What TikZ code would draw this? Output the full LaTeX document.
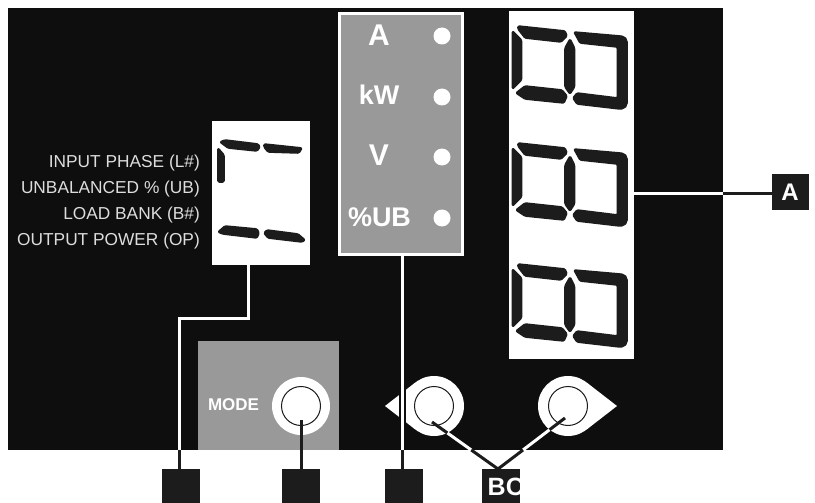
\documentclass[tikz,border=0pt]{standalone}
\usepackage{fontspec}
\setmainfont{Liberation Sans}
\definecolor{panelblack}{HTML}{0E0E0E}
\definecolor{segblack}{HTML}{1C1C1C}
\definecolor{panelgray}{HTML}{999999}
\definecolor{labelgray}{HTML}{DDDDDD}
\tikzset{
  box/.style={rectangle,inner sep=0pt,outer sep=0pt,anchor=north west},
  seg/.style={fill=segblack,draw=segblack,line width=1.6pt,line join=round,rounded corners=1.2pt},
  tag/.style={box,fill=segblack,minimum width=38pt,minimum height=34pt},
  whiteline/.style={draw=white,line width=3pt},
  blackline/.style={draw=segblack,line width=3pt},
  casing/.style={draw=panelblack,line width=7pt},
  sidelabel/.style={inner sep=0pt,anchor=east,text=labelgray,font=\fontsize{17.3}{17.3}\selectfont},
  unitlabel/.style={inner sep=0pt,text=white,font=\fontsize{27}{27}\selectfont\bfseries},
  bigunit/.style={inner sep=0pt,text=white,font=\fontsize{30}{30}\selectfont\bfseries},
  unitdot/.style={circle,fill=white,inner sep=0pt,minimum size=17pt},
  knob/.style={circle,fill=white,inner sep=0pt,minimum size=#1},
  ring/.style={circle,draw=segblack,line width=1pt,inner sep=0pt,minimum size=39pt},
}
\newcommand{\digitpair}[1]{%
  \begin{scope}[shift={(505,#1)}]
    \draw[seg] (13,11) -- (60,16) -- (62,21) -- (56,27) -- (20,23) -- (13,14) -- cycle;
    \draw[seg] (7.5,16) -- (16.5,25) -- (16.5,65) -- (7.5,74) -- cycle;
    \draw[seg] (11,78) -- (20,71) -- (57,75) -- (62,81) -- (59,88) -- (20,84) -- cycle;
    \draw[seg] (65,24) -- (69.5,33) -- (69.5,72) -- (65,79) -- (60,72) -- (60,33) -- cycle;
    \draw[seg] (69,17) -- (115,21) [rounded corners=5pt] -- (122,22) -- (122,93) [rounded corners=1.2pt] -- (115,94) -- (72,89) -- (68,83) -- (72,78) -- (112.5,83) -- (112.5,32) -- (75,28) -- cycle;
  \end{scope}}
\begin{document}
\begin{tikzpicture}[x=1pt,y=-1pt]
\useasboundingbox (0,0) rectangle (815,503);
\fill[white] (0,0) rectangle (815,503);
% panel and boxes
\node[box,fill=panelblack,minimum width=715pt,minimum height=442pt] (panel) at (8,8) {};
\node[box,fill=white,minimum width=98pt,minimum height=144pt] (phasebox) at (212,121) {};
\node[box,fill=panelgray,draw=white,line width=3pt,minimum width=123pt,minimum height=241pt] (unitbox) at (339.5,13.5) {};
\node[box,fill=white,minimum width=125pt,minimum height=348pt] (readbox) at (509,11) {};
\node[box,fill=panelgray,minimum width=141pt,minimum height=109pt] (modebox) at (198,341) {};
% tags
\node[tag] (tagone) at (162,469) {};
\node[tag] (tagtwo) at (282,469) {};
\node[tag] (tagthree) at (385,469) {};
\node[tag] (tagbc) at (482,469) {};
\begin{scope}
  \clip (482,469) rectangle (520,503);
  \node[inner sep=0pt,anchor=west,text=white,font=\fontsize{25}{25}\selectfont\bfseries] (bctext) at (487.5,487) {BC};
\end{scope}
\node[box,fill=segblack,minimum width=37pt,minimum height=36pt] (taga) at (772,174) {};
\node[inner sep=0pt,text=white,font=\fontsize{24}{24}\selectfont\bfseries] (tagatext) at (790,192.5) {A};
% side labels
\node[sidelabel] (lone) at (200,163) {INPUT PHASE (L\#)};
\node[sidelabel] (ltwo) at (200,189) {UNBALANCED \% (UB)};
\node[sidelabel] (lthree) at (200,215) {LOAD BANK (B\#)};
\node[sidelabel] (lfour) at (200,241) {OUTPUT POWER (OP)};
% unit labels and dots
\node[bigunit] (ua) at (379,35) {A};
\node[unitlabel] (ukw) at (379,95) {kW};
\node[bigunit] (uv) at (379,155) {V};
\node[unitlabel] (uub) at (379.5,217) {\%UB};
\node[unitdot] (da) at (442,36) {};
\node[unitdot] (dkw) at (442,97) {};
\node[unitdot] (dv) at (442,157) {};
\node[unitdot] (dub) at (442,218) {};
\node[inner sep=0pt,text=white,font=\fontsize{17}{17}\selectfont\bfseries] (modetext) at (233.5,405) {MODE};
% digits
\digitpair{15}
\digitpair{132}
\digitpair{253}
\draw[seg] (220,142) -- (225,140) -- (258,144) -- (260,147) -- (257,151) -- (228,148) -- cycle;
\draw[seg] (264,144) -- (302,148) -- (299,153) -- (268,152) -- (264,147) -- cycle;
\draw[seg] (218,148) -- (224,155) -- (224,182) -- (218,182) -- cycle;
\draw[seg] (218,232) -- (225,226) -- (257,229) -- (259,233) -- (257,238) -- (223,234) -- cycle;
\draw[seg] (264,233) -- (267,230) -- (298,234) -- (305,240) -- (302,242) -- (268,238) -- cycle;
% connector way points
\coordinate (pa) at (248,265);
\coordinate (pb) at (248,318);
\coordinate (pc) at (179,318);
\coordinate (pd) at (179,450);
\coordinate (ua0) at (402,256);
\coordinate (ua1) at (402,450);
\coordinate (ra0) at (634,193);
\coordinate (ra1) at (723,193);
\coordinate (lhit) at (432,422);
\coordinate (lout) at (447.3,432.9);
\coordinate (lpan) at (471.3,450);
\coordinate (rhit) at (565,418);
\coordinate (rout) at (549.6,429.7);
\coordinate (rpan) at (523,450);
\coordinate (bcl) at (498,469);
% white parts of the connectors
\draw[whiteline] (pa) -- (pb) -- (pc) -- (pd);
\draw[whiteline] (ra0) -- (ra1);
\draw[whiteline] (lout) -- (lpan);
\draw[whiteline] (rout) -- (rpan);
% knobs
\fill[white] (385,406) -- (415.6,382.3) -- (415.6,429.7) -- cycle;
\fill[white] (617,406) -- (586.4,382.3) -- (586.4,429.7) -- cycle;
\node[knob=58pt] (kmode) at (301,406) {};
\node[knob=60pt] (kleft) at (434,406) {};
\node[knob=60pt] (kright) at (568,406) {};
\node[ring] (rmode) at (301,406) {};
\node[ring] (rleft) at (434,406) {};
\node[ring] (rright) at (568,406) {};
\draw[casing] (402,375) -- (ua1);
\draw[whiteline] (ua0) -- (ua1);
% black parts of the connectors
\draw[blackline] (pd) -- (tagone.north -| pd);
\draw[blackline] (ua1) -- (tagthree.north -| ua1);
\draw[blackline] (ra1) -- (taga.west |- ra1);
\draw[blackline] (301,420) -- (tagtwo.north);
\draw[blackline] (lhit) -- (lout);
\draw[blackline] (lpan) -- (bcl);
\draw[blackline] (rhit) -- (rout);
\draw[blackline] (rpan) -- (bcl);
\end{tikzpicture}
\end{document}
